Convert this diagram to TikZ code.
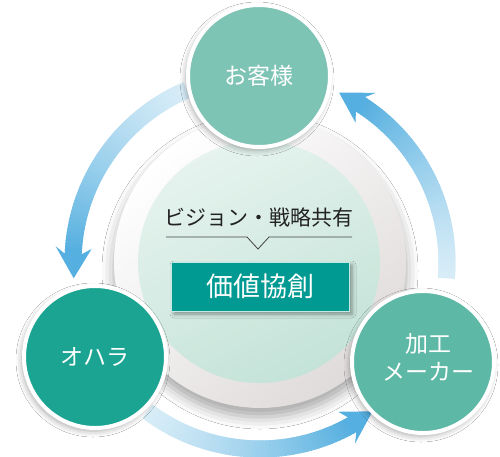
\documentclass[tikz,border=0pt]{standalone}
\usepackage{fontspec}
\setmainfont{Noto Sans CJK JP}
\usetikzlibrary{shadows.blur}
\definecolor{topc}{HTML}{7DC4B5}
\definecolor{leftc}{HTML}{1BA492}
\definecolor{rightc}{HTML}{5DB8A5}
\definecolor{boxc}{HTML}{009A92}
\definecolor{boxedge}{HTML}{C4E9E3}
\definecolor{arrowdark}{HTML}{55AFE0}
\definecolor{arrowlight}{HTML}{DCEFF8}
\definecolor{ringgray}{HTML}{E0DBDB}
\definecolor{mintlight}{HTML}{E6F3EE}
\definecolor{mintdark}{HTML}{C4E3D8}
\definecolor{textdark}{HTML}{222222}
\newcommand\ringarrow[2]{%
  \pgfmathsetmacro\se{#2-7.6}
  \foreach \i in {0,...,59}{
    \pgfmathsetmacro\aa{#1+(\se-#1)*\i/60}
    \pgfmathsetmacro\ab{#1+(\se-#1)*(\i+1.7)/60}
    \pgfmathsetmacro\pc{4+96*(\i/59)^1.3}
    \draw[line width=17pt, arrowdark!\pc!arrowlight]
      ({260+187*cos(\aa)},{262-187*sin(\aa)}) -- ({260+187*cos(\ab)},{262-187*sin(\ab)});
  }
  \pgfmathsetmacro\sb{\se-1.8}
  \fill[arrowdark]
    ({260+205*cos(\sb)},{262-205*sin(\sb)}) --
    ({260+187*cos(#2)},{262-187*sin(#2)}) --
    ({260+169*cos(\sb)},{262-169*sin(\sb)}) --
    ({260+178*cos(\se)},{262-178*sin(\se)}) --
    ({260+196*cos(\se)},{262-196*sin(\se)}) -- cycle;
}
\begin{document}
\begin{tikzpicture}[x=1pt,y=-1pt,
  bubble/.style={circle, minimum size=142pt, inner sep=0pt, draw=white,
    line width=4pt, text=white, font=\fontsize{23}{29}\selectfont, align=center,
    blur shadow={shadow xshift=-2pt, shadow yshift=-3pt, shadow blur radius=6pt, shadow opacity=35}},
  bubbletext/.style={text=white, font=\fontsize{23}{29}\selectfont, align=center, inner sep=0pt},
  valuebox/.style={rectangle, minimum width=178pt, minimum height=49pt, inner sep=0pt,
    fill=boxc, draw=boxedge, line width=0.9pt, text=white, font=\fontsize{27}{30}\selectfont,
    blur shadow={shadow xshift=3pt, shadow yshift=-3pt, shadow blur radius=4pt, shadow opacity=40}},
]
\useasboundingbox (0,0) rectangle (500,456);
\fill[white] (0,0) rectangle (500,456);
% central disk
\path[blur shadow={shadow xshift=0pt, shadow yshift=-9pt, shadow blur radius=12pt, shadow opacity=35},
  top color=white, bottom color=ringgray, shading angle=40] (260,262) circle[radius=146];
\path[top color=mintlight, bottom color=mintdark, shading angle=25] (259,262) circle[radius=121];
% arrows
\ringarrow{113}{185}
\ringarrow{-5}{65}
\ringarrow{-127}{-53}
% circles
\node[bubble, fill=topc] (customer) at (259,76) {お客様};
\node[bubble, fill=leftc] (ohara) at (95,357) {オハラ};
\node[bubble, fill=rightc] (maker) at (423,362) {};
\node[bubbletext] (makertext) at (428,357) {加工\\[-1pt]メーカー};
% center text
\node[text=textdark, font=\fontsize{21}{24}\selectfont, inner sep=0pt] (vision) at (259,217) {ビジョン・戦略共有};
\coordinate (la) at (166,237);
\coordinate (lb) at (352,237);
\coordinate (va) at (247,237);
\coordinate (vb) at (258,249);
\coordinate (vc) at (269,237);
\draw[textdark!85, line width=0.8pt] (la) -- (va) -- (vb) -- (vc) -- (lb);
\node[valuebox] (value) at (260,286.5) {価値協創};
\end{tikzpicture}
\end{document}
